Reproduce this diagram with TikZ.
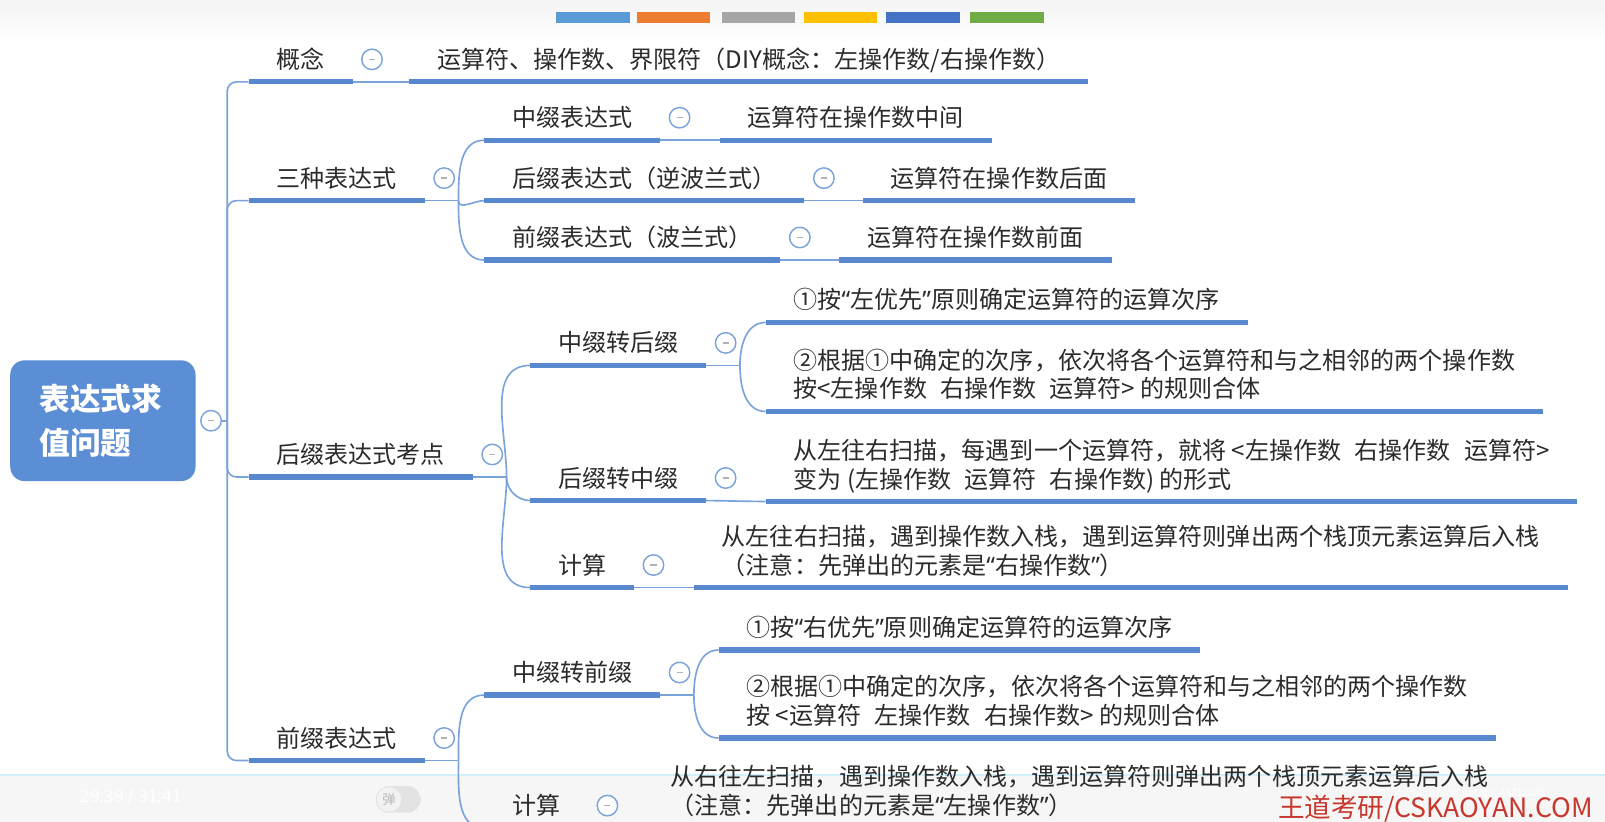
\documentclass[tikz,border=0pt]{standalone}
\usepackage{fontspec}
\setmainfont{Noto Sans CJK SC}
\newfontfamily\quotefont{Noto Sans}
\usetikzlibrary{positioning}
\definecolor{rootblue}{HTML}{5B8ED4}
\definecolor{barblue}{HTML}{5889CF}
\definecolor{lineblue}{HTML}{7AA3DA}
\definecolor{inktext}{HTML}{2B2B2B}
\definecolor{markred}{HTML}{C8372D}
\definecolor{tbA}{HTML}{5B9BD5}
\definecolor{tbB}{HTML}{ED7D31}
\definecolor{tbC}{HTML}{A5A5A5}
\definecolor{tbD}{HTML}{FFC000}
\definecolor{tbE}{HTML}{4472C4}
\definecolor{tbF}{HTML}{70AD47}
\newcommand{\opgap}{\hspace{0.55em}}
\newcommand{\oquote}{{\quotefont “}}
\newcommand{\cquote}{{\quotefont ”}}
\tikzset{
  root/.style={rounded corners=14pt, fill=rootblue, text=white, minimum width=181pt,
    minimum height=118pt, text width=124pt, align=left,
    font=\bfseries\fontsize{30}{43}\selectfont},
  topic/.style={anchor=south west, inner xsep=27pt, inner ysep=0pt, text depth=13pt,
    align=left, text=inktext, font=\fontsize{23.5}{28}\selectfont},
  bar/.style={line width=5pt, draw=barblue},
  link/.style={line width=1.6pt, draw=lineblue},
  fold/.style={circle, draw=lineblue, line width=1.4pt, fill=white, minimum size=20pt, inner sep=0pt,
    path picture={\draw[gray!60, line width=1.3pt]
      ([xshift=-3pt]path picture bounding box.center) -- ([xshift=3pt]path picture bounding box.center);}},
}
\begin{document}
\begin{tikzpicture}[x=1pt,y=-1pt]
\useasboundingbox (0,0) rectangle (1568,803);
\clip (0,0) rectangle (1568,803);
% toolbar and player band
\shade[top color=gray!9, bottom color=white] (0,0) rectangle (1568,42);
\foreach \x/\c in {543/tbA,622/tbB,705/tbC,785/tbD,866/tbE,948/tbF}
  \fill[\c] (\x,12) rectangle ++(72,10);
\fill[gray!7] (0,757) rectangle (1568,803);
\draw[cyan!18, line width=1.5pt] (0,757) -- (1568,757);

\node[root] (root) at (100.5,411) {表达式求\\值问题};
\node[fold] (f-root) at ([xshift=15pt]root.east) {};
\coordinate (trunk) at (222,411);

% level 1
\node[topic] (gn) at (243,80) {概念};
\node[topic] (three) at (243,196) {三种表达式};
\node[topic] (hz) at (243,466) {后缀表达式考点};
\node[topic] (qz) at (243,743) {前缀表达式};

% concept and three forms
\node[topic] (gn1) at (400,80) {运算符、操作数、界限符（DIY概念：左操作数/右操作数）};
\node[topic] (in) at (473,137) {中缀表达式};
\node[topic] (in1) at (703,137) {运算符在操作数中间};
\node[topic] (post) at (473,196) {后缀表达式（逆波兰式）};
\node[topic] (post1) at (843,196) {运算符在操作数后面};
\node[topic] (pre) at (473,254) {前缀表达式（波兰式）};
\node[topic] (pre1) at (820,254) {运算符在操作数前面};

% postfix
\node[topic] (i2p) at (518,357) {中缀转后缀};
\node[topic] (i2p1) at (748,315) {①按\oquote 左优先\cquote 原则确定运算符的运算次序};
\node[topic] (i2p2) at (748,402) {②根据①中确定的次序，依次将各个运算符和与之相邻的两个操作数\\按<左操作数\opgap 右操作数\opgap 运算符> 的规则合体};
\node[topic] (p2i) at (518,489) {后缀转中缀};
\node[topic] (p2i1) at (748,490) {从左往右扫描，每遇到一个运算符，就将 <左操作数\opgap 右操作数\opgap 运算符>\\变为 (左操作数\opgap 运算符\opgap 右操作数) 的形式};
\node[topic] (pc) at (518,574) {计算};
\node[topic] (pc1) at (678,574) {从左往右扫描，遇到操作数入栈，遇到运算符则弹出两个栈顶元素运算后入栈\\（注意：先弹出的元素是\oquote 右操作数\cquote）};

% prefix
\node[topic] (i2q) at (473,679) {中缀转前缀};
\node[topic] (i2q1) at (702,635) {①按\oquote 右优先\cquote 原则确定运算符的运算次序};
\node[topic] (i2q2) at (702,721) {②根据①中确定的次序，依次将各个运算符和与之相邻的两个操作数\\按 <运算符\opgap 左操作数\opgap 右操作数> 的规则合体};
\node[topic] (qc) at (473,809) {计算};
\node[topic] (qc1) at (628,809) {从右往左扫描，遇到操作数入栈，遇到运算符则弹出两个栈顶元素运算后入栈\\（注意：先弹出的元素是\oquote 左操作数\cquote）};

\foreach \n in {gn,three,hz,qz,gn1,in,in1,post,post1,pre,pre1,i2p,i2p1,i2p2,p2i,p2i1,pc,pc1,i2q,i2q1,i2q2,qc,qc1}
  \draw[bar] (\n.south west) -- (\n.south east);

% connectors
\draw[link] (f-root) -- (trunk);
\foreach \n in {gn,three,hz,qz}
  \draw[link, rounded corners=9pt] (trunk) |- (\n.south west);
\foreach \a/\b in {gn/gn1,in/in1,post/post1,pre/pre1,p2i/p2i1,pc/pc1,qc/qc1}
  \draw[link] (\a.south east) -- (\b.south west);
\foreach \p/\u/\m/\d in {three/in/post/pre,hz/i2p/p2i/pc}{
  \coordinate (j-\p) at ([xshift=33pt]\p.south east);
  \draw[link] (\p.south east) -- (j-\p);
  \draw[link] (j-\p) to[out=90,in=180] (\u.south west);
  \draw[link] (j-\p) to[out=-90,in=180] (\m.south west);
  \draw[link] (j-\p) to[out=-90,in=180] (\d.south west);
}
\foreach \p/\u/\d in {i2p/i2p1/i2p2,i2q/i2q1/i2q2,qz/i2q/qc}{
  \coordinate (j-\p) at ([xshift=33pt]\p.south east);
  \draw[link] (\p.south east) -- (j-\p);
  \draw[link] (j-\p) to[out=90,in=180] (\u.south west);
  \draw[link] (j-\p) to[out=-90,in=180] (\d.south west);
}

\foreach \n in {gn,three,in,post,pre,hz,i2p,p2i,pc,qz,i2q,qc}
  \node[fold] (f-\n) at ([shift={(19pt,22pt)}]\n.south east) {};

% player overlay
\node[anchor=west, text=white, font=\fontsize{17}{17}\selectfont] (clock) at (75,779) {29:39 / 31:41};
\node[fill=gray!22, rounded corners=13pt, minimum width=44pt, minimum height=26pt] (pill) at (389,781) {};
\node[circle, fill=gray!10, minimum size=24pt, inner sep=0pt, text=gray!55,
  font=\fontsize{13}{13}\selectfont] (dan) at (380,781) {弹};
\node[anchor=west, text=white, inner sep=0pt, font=\fontsize{10}{10}\selectfont] (csdn) at (1345,775) {https://blog.csdn.net/qq\_45212020};
\node[anchor=base west, text=markred, font=\fontsize{26}{30}\selectfont] (mark) at (1245,799) {王道考研/CSKAOYAN.COM};
\end{tikzpicture}
\end{document}
